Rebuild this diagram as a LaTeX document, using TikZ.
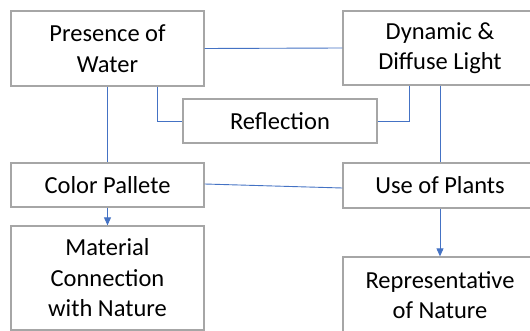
\documentclass[tikz,border=0pt]{standalone}
\usepackage{fontspec}
\setmainfont{Carlito}
\usetikzlibrary{arrows.meta}
\definecolor{boxgray}{HTML}{A6A6A6}
\definecolor{linkblue}{HTML}{4472C4}
\tikzset{
  box/.style={draw=boxgray, line width=1.3pt, fill=white, inner sep=0pt, align=center,
    font=\fontsize{24.5}{30.5}\selectfont, text=black},
  link/.style={draw=linkblue, line width=0.9pt},
  arrowlink/.style={link, -{Triangle[width=7pt,length=8pt]}}
}
\begin{document}
\begin{tikzpicture}[x=1pt,y=-1pt]
\useasboundingbox (0,0) rectangle (530,331);
\clip (0,0) rectangle (530,331);
\fill[white] (0,0) rectangle (530,331);
% nodes
\node[box, minimum width=193pt, minimum height=75pt] (pw) at (107.5,48.5) {Presence of\\Water};
\node[box, minimum width=194pt, minimum height=74pt] (dl) at (440,48) {Dynamic \&\\Diffuse Light};
\node[box, minimum width=194pt, minimum height=44pt] (rf) at (280,121) {Reflection};
\node[box, minimum width=193pt, minimum height=44pt] (cp) at (107.5,185) {Color Pallete};
\node[box, minimum width=194pt, minimum height=45pt] (up) at (440,185.5) {Use of Plants};
\node[box, minimum width=193pt, minimum height=104pt] (mn) at (107.5,278) {Material\\Connection\\with Nature};
\node[box, minimum width=194pt, minimum height=76pt] (rn) at (440,295) {Representative\\of Nature};
% connectors
\draw[link] (pw.east) -- (dl.west);
\draw[link] ([yshift=1pt]cp.east) -- ([yshift=-2.5pt]up.west);
\draw[link] ([xshift=49.5pt]pw.south) |- (rf.west);
\draw[link] ([xshift=-31pt]dl.south) |- (rf.east);
\draw[link] (pw.south) -- (cp.north);
\draw[link] (dl.south) -- (up.north);
\draw[arrowlink] (cp.south) -- (mn.north);
\draw[arrowlink] (up.south) -- (rn.north);
\end{tikzpicture}
\end{document}
